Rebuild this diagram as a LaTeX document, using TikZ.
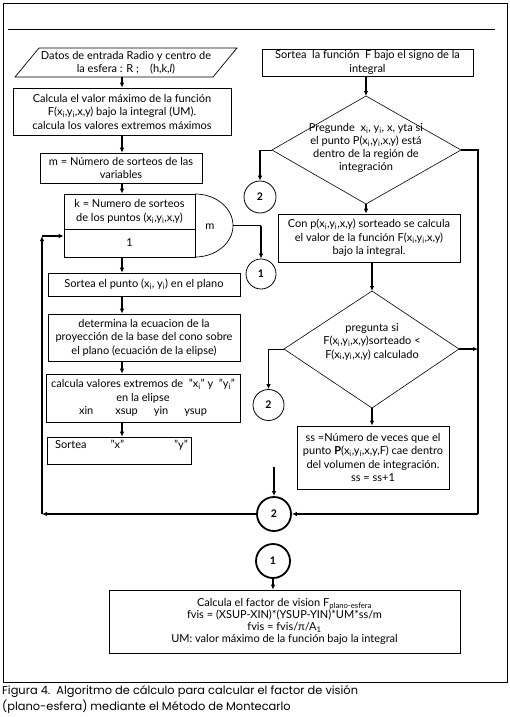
\documentclass[tikz,border=0pt]{standalone}
\usepackage{fontspec}
\setmainfont{Lato}
\newfontfamily\capfont{Poppins}
\usetikzlibrary{arrows.meta,calc}
\newcommand{\bodyf}{\fontsize{11}{13.5}\selectfont}
\newcommand{\sbi}{\textsubscript{i}}
\begin{document}
\begin{tikzpicture}[x=1pt,y=-1pt,
  box/.style={draw, line width=0.7pt, inner sep=0pt, align=center, font=\bodyf},
  txt/.style={inner sep=0pt, align=center, font=\bodyf},
  arr/.style={-{Latex[length=5pt,width=4.5pt]}, line width=1.4pt},
  conn/.style={line width=0.8pt},
  circ/.style={circle, draw, line width=0.8pt, inner sep=0pt, font=\bfseries\fontsize{10.5}{12}\selectfont},
  bigcirc/.style={circ, line width=1.8pt}]
\useasboundingbox (0,0) rectangle (510,717);
% frame
\draw[line width=0.7pt] (3,3) rectangle (507,682);
\draw[line width=0.7pt] (8,29) -- (495,29);
% column coordinate
\coordinate (ax) at (122,0);
% parallelogram
\coordinate (pa) at (39,48); \coordinate (pb) at (237,48);
\coordinate (pc) at (213,77); \coordinate (pd) at (15,77);
\draw[line width=0.7pt] (pa) -- (pb) -- (pc) -- (pd) -- cycle;
\node[txt] (p1) at (126,63) {Datos de entrada Radio y centro de\\la esfera : R ;\quad (h,k,\textit{l})};
\node[box, minimum width=218pt, minimum height=47pt] (b2) at (122,111.5)
  {Calcula el valor máximo de la función\\F(x\sbi,y\sbi,x,y) bajo la integral (UM).\\calcula los valores extremos máximos};
\node[box, minimum width=162pt, minimum height=30pt] (b3) at (121,168)
  {m = Número de sorteos de las\\variables};
\node[box, minimum width=131pt, minimum height=35pt] (k) at (129.5,211.5)
  {k = Numero de sorteos\\de los puntos (x\sbi,y\sbi,x,y)};
\node[box, minimum width=131pt, minimum height=28pt] (one) at (129.5,243) {1};
\draw[line width=0.7pt] (195,194) arc[start angle=90, end angle=-90, x radius=38pt, y radius=31.5pt];
\node[txt] (m) at (210,227) {m};
\coordinate (dR) at (233,225.5);
\node[box, minimum width=192pt, minimum height=23pt] (s1) at (144,284.5)
  {Sortea el punto (x\sbi, y\sbi) en el plano};
\node[box, minimum width=192pt, minimum height=47pt] (s2) at (144,337.5)
  {determina la ecuacion de la\\proyección de la base del cono sobre\\el plano (ecuación de la elipse)};
\node[box, minimum width=194pt, minimum height=48pt] (s3) at (143,398)
  {calcula valores extremos de\ \ "x\sbi" y\ \ "y\sbi"\\en la elipse\\xin\hspace{22pt}xsup\hspace{16pt}yin\hspace{16pt}ysup};
\node[box, minimum width=144pt, minimum height=27pt] (s4) at (119,450.5) {};
\node[txt, anchor=west] (s4t) at (55,445) {Sortea\hspace{24pt}"x"\hspace{50pt}"y"};
% right column
\node[box, minimum width=211pt, minimum height=27pt] (r1) at (367.5,62.5)
  {Sortea\ \ la función\ \ F bajo el signo de la\\integral};
\coordinate (d1t) at (366,96); \coordinate (d1r) at (461,150);
\coordinate (d1b) at (366,204); \coordinate (d1l) at (272,150);
\draw[line width=0.6pt] (d1t) -- (d1r) -- (d1b) -- (d1l) -- cycle;
\node[txt, font=\fontsize{11}{12.7}\selectfont] (d1) at (366,148)
  {Pregunde\ \ x\sbi, y\sbi, x, yta si\\el punto P(x\sbi,y\sbi,x,y) está\\dentro de la región de\\integración};
\node[circ, minimum size=32pt] (c2a) at (260,197) {2};
\node[circ, minimum size=30pt] (c1a) at (261,274) {1};
\node[box, minimum width=182pt, minimum height=48pt] (r2) at (369,238)
  {Con p(x\sbi,y\sbi,x,y) sorteado se calcula\\el valor de la función F(x\sbi,y\sbi,x,y)\\bajo la integral.};
\coordinate (d2t) at (372,291); \coordinate (d2r) at (459,349);
\coordinate (d2b) at (372,408); \coordinate (d2l) at (284,349);
\draw[line width=0.6pt] (d2t) -- (d2r) -- (d2b) -- (d2l) -- cycle;
\node[txt] (d2) at (372,341.5)
  {pregunta si\\F(x\sbi,y\sbi,x,y)sorteado <\\F(x\sbi,y\sbi,x,y) calculado};
\node[circ, minimum size=31pt] (c2b) at (268.5,405) {2};
\node[box, minimum width=152pt, minimum height=63pt] (r3) at (373,457.5)
  {ss =Número de veces que el\\punto \textbf{P}(x\sbi,y\sbi,x,y,F) cae dentro\\del volumen de integración.\\ss = ss+1};
\node[bigcirc, minimum size=34pt] (C2) at (274,514) {2};
\node[bigcirc, minimum size=34pt] (C1) at (273,561) {1};
\node[box, minimum width=351pt, minimum height=63pt, font=\fontsize{11}{12}\selectfont] (fin) at (284.5,621.5)
  {Calcula el factor de vision F\textsubscript{plano-esfera}\\fvis = (XSUP-XIN)*(YSUP-YIN)*UM*ss/m\\fvis = fvis/π/A\textsubscript{1}\\UM: valor máximo de la función bajo la integral};
% bus coordinates
\coordinate (rt) at (478,150); \coordinate (rb) at (478,514);
\coordinate (lb) at (42,514); \coordinate (lt) at (42,236);
\coordinate (f2) at (274,467);
% connectors left column
\draw[arr] (ax |- pc) -- (ax |- b2.north);
\draw[arr] (ax |- b2.south) -- (ax |- b3.north);
\draw[arr] (ax |- b3.south) -- (ax |- k.north);
\draw[arr] (ax |- one.south) -- (ax |- s1.north);
\draw[arr] (ax |- s1.south) -- (ax |- s2.north);
\draw[arr] (ax |- s2.south) -- (ax |- s3.north);
\draw[arr] (ax |- s3.south) -- (ax |- s4.north);
\draw[conn] (dR) -- (dR -| c1a);
\draw[arr] (dR -| c1a) -- (c1a.north);
% right column
\draw[arr] (d1t |- r1.south) -- (d1t);
\draw[conn] (d1l) -- (d1l -| c2a);
\draw[arr] (d1l -| c2a) -- (c2a.north);
\draw[arr] (d1b) -- (d1b |- r2.north);
\draw[arr] (d2t |- r2.south) -- (d2t);
\draw[conn] (d2l) -- (d2l -| c2b);
\draw[arr] (d2l -| c2b) -- (c2b.north);
\draw[arr] (d2b) -- (d2b |- r3.north);
\draw[arr] (d2r) -- (d2r -| rt);
\draw[conn, line width=1.4pt] (d1r) -- (rt) -- (rb);
\draw[arr] (rb) -- (C2.east);
\draw[arr] (f2) -- (C2.north);
\draw[arr] (C2.west) -- (lb);
\draw[arr] (lb) -- (lt);
\draw[arr] (lt) -- (lt -| one.west);
\draw[arr] (C1.south) -- (C1.south |- fin.north);
% caption
\node[anchor=north west, inner sep=0pt, align=left, font=\capfont\fontsize{11.4}{16}\selectfont] (cap) at (2,685)
  {Figura 4.\ \ Algoritmo de cálculo para calcular el factor de visión\\(plano-esfera) mediante el Método de Montecarlo};
\end{tikzpicture}
\end{document}
